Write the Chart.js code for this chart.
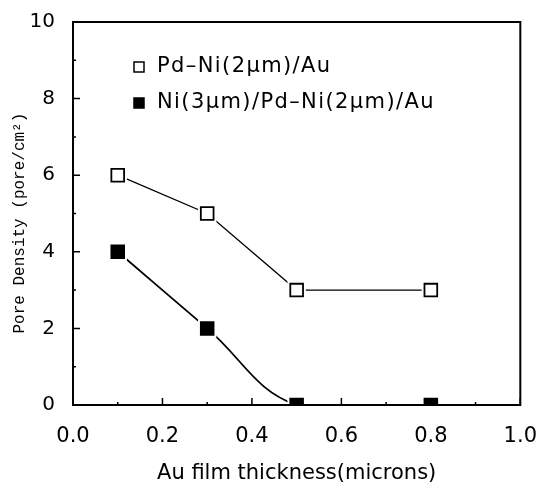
<!DOCTYPE html>
<html>
<head>
<meta charset="utf-8">
<script src="https://cdn.jsdelivr.net/npm/chart.js@4"></script>
<style>
  html, body { margin: 0; padding: 0; background: #fff; }
  #wrap { width: 548px; height: 490px; }
</style>
</head>
<body>
<div id="wrap"><canvas id="chart" width="548" height="490"></canvas></div>
<script>
// data
const thickness = [0.1, 0.3, 0.5, 0.8];
const pdNi = [6, 5, 3, 3];
const niPdNi = [4, 2, 0, 0];
const seriesNames = ["Pd\u2013Ni(2\u03bcm)/Au", "Ni(3\u03bcm)/Pd\u2013Ni(2\u03bcm)/Au"];

const pts = (ys) => thickness.map((x, i) => ({ x: x, y: ys[i] }));

// inward ticks, frame and the in-plot legend
const framePlugin = {
  id: "frame",
  afterDatasetsDraw(chart) {
    const { ctx, chartArea: a, scales } = chart;
    ctx.save();
    ctx.strokeStyle = "#000";
    ctx.lineWidth = 2;
    ctx.strokeRect(a.left, a.top, a.right - a.left, a.bottom - a.top);
    ctx.lineWidth = 1.5;
    ctx.beginPath();
    for (let v = 0.1; v < 1; v += 0.1) {
      const px = scales.x.getPixelForValue(v);
      const major = Math.round(v * 10) % 2 === 0;
      ctx.moveTo(px, a.bottom);
      ctx.lineTo(px, a.bottom - (major ? 7 : 3));
    }
    for (let v = 1; v < 10; v++) {
      const py = scales.y.getPixelForValue(v);
      ctx.moveTo(a.left, py);
      ctx.lineTo(a.left + (v % 2 === 0 ? 7 : 3), py);
    }
    ctx.stroke();

    // legend
    ctx.font = "21px 'DejaVu Sans'";
    ctx.letterSpacing = "1.4px";
    ctx.textBaseline = "middle";
    const rows = [67, 103];
    [4, 5].forEach((di, r) => {
      const ds = chart.data.datasets[di];
      const y = rows[r];
      ctx.fillStyle = ds.backgroundColor;
      ctx.fillRect(134, y - 5, 10, 10);
      ctx.lineWidth = 1.5;
      ctx.strokeRect(134, y - 5, 10, 10);
      ctx.fillStyle = "#000";
      ctx.fillText(ds.label, 157, y);
    });
    ctx.restore();
  }
};

new Chart(document.getElementById("chart"), {
  type: "scatter",
  data: {
    datasets: [
      { data: pts(pdNi), showLine: true, borderColor: "#000", borderWidth: 1.3,
        pointRadius: 0, tension: 0, order: 3 },
      { data: pts(niPdNi), showLine: true, borderColor: "#000", borderWidth: 1.8,
        pointRadius: 0, tension: 0.4, order: 3 },
      // white halos give the small gaps between lines and markers
      { data: pts(pdNi), pointStyle: "rect", pointRadius: 13, backgroundColor: "#fff",
        borderWidth: 0, order: 2 },
      { data: pts(niPdNi), pointStyle: "rect", pointRadius: 13, backgroundColor: "#fff",
        borderWidth: 0, order: 2 },
      { label: seriesNames[0], data: pts(pdNi), pointStyle: "rect", pointRadius: 9,
        backgroundColor: "#fff", borderColor: "#000", borderWidth: 1.8, order: 1 },
      { label: seriesNames[1], data: pts(niPdNi), pointStyle: "rect", pointRadius: 9,
        backgroundColor: "#000", borderColor: "#000", borderWidth: 1.8, order: 1 }
    ]
  },
  options: {
    responsive: false,
    animation: false,
    events: [],
    layout: { padding: { top: 17, right: 21, left: 0, bottom: 0 } },
    plugins: { legend: { display: false }, tooltip: { enabled: false } },
    scales: {
      x: {
        type: "linear", min: 0, max: 1,
        grid: { display: false },
        border: { display: false },
        ticks: { stepSize: 0.2, padding: 11, color: "#000",
          font: { family: "'DejaVu Sans'", size: 21 },
          callback: (v) => v.toFixed(1) },
        title: { display: true, text: "Au film thickness(microns)", color: "#000",
          font: { family: "'DejaVu Sans'", size: 21 }, padding: { top: 6 } },
        afterFit: (s) => { s.height = 85; }
      },
      y: {
        min: 0, max: 10,
        grid: { display: false },
        border: { display: false },
        ticks: { stepSize: 2, padding: 10, color: "#000",
          font: { family: "'DejaVu Sans'", size: 20 } },
        title: { display: true, text: "Pore Density (pore/cm\u00b2)  ", color: "#000",
          font: { family: "'Liberation Mono'", size: 16 }, padding: { top: 10, bottom: 4 } },
        afterFit: (s) => { s.width = 73; }
      }
    }
  },
  plugins: [framePlugin]
});
</script>
</body>
</html>
